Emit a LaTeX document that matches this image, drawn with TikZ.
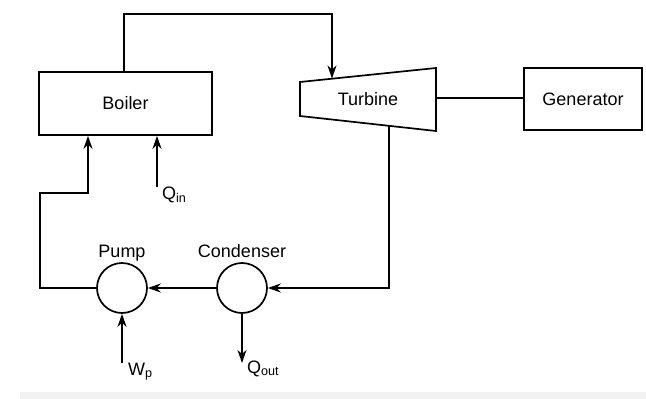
\documentclass[tikz,border=0pt]{standalone}
\usepackage{fontspec}
\setmainfont{Liberation Sans}
\usetikzlibrary{arrows.meta}
\begin{document}
\begin{tikzpicture}[x=1pt,y=-1pt,
  pipe/.style={draw, line width=1.7pt, line join=miter},
  arr/.style={draw, line width=1.7pt, -{Stealth[length=13pt,width=9pt,inset=4pt]}},
  lbl/.style={font=\fontsize{18}{20}\selectfont, inner sep=0pt},
  unit/.style={draw, line width=1.7pt, inner sep=0pt},
  disc/.style={unit, circle, minimum size=50pt}]
\useasboundingbox (0,0) rectangle (646,399);
\fill[black!5] (20,392) rectangle (646,399);
% boiler
\node[unit, minimum width=173pt, minimum height=63pt] (boiler) at (125.5,103.5) {};
\node[lbl] (boilert) at (125.5,103.5) {Boiler};
% turbine
\coordinate (t1) at (300,82);
\coordinate (t2) at (436,68);
\coordinate (t3) at (436,131);
\coordinate (t4) at (300,116);
\draw[pipe] (t1) -- (t2) -- (t3) -- (t4) -- cycle;
\node[lbl] (turbine) at (368,99) {Turbine};
\coordinate (tin) at (332,78.5);
\coordinate (tout) at (389,125.8);
\coordinate (tshaft) at (436,98);
% generator
\node[unit, minimum width=118pt, minimum height=62pt] (gen) at (583,99) {};
\node[lbl] (gent) at (583,99) {Generator};
% pump, condenser
\node[disc] (pump) at (122,288) {};
\node[disc] (cond) at (242,288) {};
\node[lbl, anchor=base] (pumpt) at (122,257) {Pump};
\node[lbl, anchor=base] (condt) at (242,257) {Condenser};
% flows
\coordinate (b1) at (124,14);
\coordinate (b2) at (332,14);
\draw[arr] (boiler.north -| b1) -- (b1) -- (b2) -- (tin);
\draw[pipe] (tshaft) -- (gen.west |- tshaft);
\coordinate (c1) at (389,288);
\draw[arr] (tout) -- (c1) -- (cond.east);
\draw[arr] (cond.west) -- (pump.east);
\coordinate (p1) at (40,288);
\coordinate (p2) at (40,193);
\coordinate (p3) at (88,193);
\draw[arr] (pump.west) -- (p1) -- (p2) -- (p3) -- (boiler.south -| p3);
% heat and work
\coordinate (qin) at (157,187);
\draw[arr] (qin) -- (boiler.south -| qin);
\node[lbl, anchor=base west] (qinl) at (162,199) {Q\textsubscript{in}};
\coordinate (wp) at (122,363);
\draw[arr] (wp) -- (pump.south);
\node[lbl, anchor=base west] (wpl) at (128,375) {W\textsubscript{p}};
\coordinate (qout) at (242,363);
\draw[arr] (cond.south) -- (qout);
\node[lbl, anchor=base west] (qoutl) at (247,373) {Q\textsubscript{out}};
\end{tikzpicture}
\end{document}
